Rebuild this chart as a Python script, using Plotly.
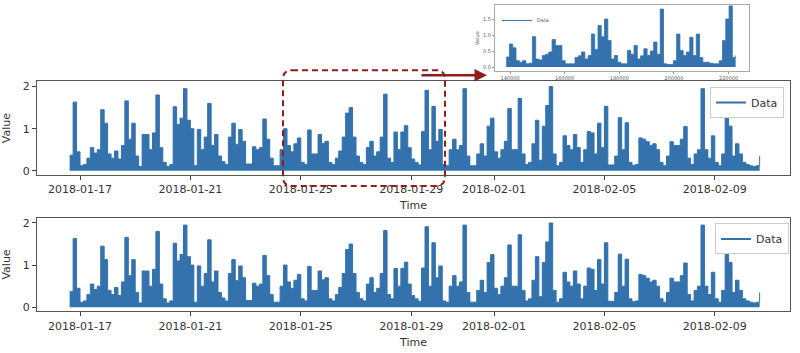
import pandas as pd
import plotly.graph_objects as go

# ---------------- data ----------------
start_time = "2018-01-16 15:00"
values = [
    0.37, 1.63, 0.45, 0.12, 0.15, 0.30, 0.55, 0.42, 0.50, 1.45,
    1.13, 0.40, 0.30, 0.47, 0.28, 0.60, 1.66, 0.75, 1.13, 0.35,
    0.10, 0.86, 0.86, 0.50, 0.90, 1.80, 0.55, 0.20, 0.10, 0.15,
    1.52, 1.10, 1.25, 1.95, 1.20, 1.00, 0.12, 0.98, 0.50, 0.80,
    1.60, 0.60, 0.86, 0.35, 0.22, 0.15, 0.80, 1.13, 0.63, 0.98,
    0.70, 0.16, 0.16, 0.57, 0.50, 0.55, 1.23, 0.75, 0.30, 0.12,
    0.12, 0.50, 1.00, 0.60, 0.45, 0.64, 0.78, 0.20, 0.15, 0.97,
    0.40, 0.40, 0.86, 0.65, 0.70, 0.20, 0.15, 0.30, 0.47, 0.80,
    1.37, 1.50, 0.80, 0.35, 0.20, 0.15, 0.55, 0.70, 0.35, 0.45,
    0.80, 1.82, 0.30, 0.20, 0.92, 0.50, 0.92, 1.07, 0.55, 0.28,
    0.20, 0.14, 0.93, 1.91, 0.50, 1.53, 0.70, 0.98, 0.15, 0.12,
    0.50, 0.75, 0.50, 0.60, 1.95, 0.35, 0.12, 0.12, 0.40, 0.64,
    0.35, 1.06, 1.25, 0.45, 0.30, 0.50, 0.70, 1.48, 0.50, 0.50,
    1.72, 0.40, 0.15, 0.20, 0.64, 1.20, 0.25, 1.06, 1.55, 2.00,
    0.40, 0.12, 0.20, 0.83, 0.60, 0.50, 0.86, 0.55, 0.20, 0.50,
    0.93, 0.90, 0.40, 1.13, 0.55, 1.53, 0.14, 0.14, 0.35, 1.26,
    0.50, 1.14, 0.20, 0.13, 0.15, 0.78, 0.75, 0.69, 0.60, 0.64,
    0.50, 0.20, 0.12, 0.35, 0.69, 0.60, 0.60, 0.75, 1.05, 0.30,
    0.15, 0.40, 0.50, 1.95, 0.50, 0.30, 0.83, 0.20, 0.12, 0.40,
    1.25, 1.06, 0.35, 0.64, 0.40, 0.20, 0.15, 0.12, 0.10, 0.12,
    0.35,
]
times = pd.date_range(start_time, periods=len(values), freq="3h")

inset_start = 138600
inset_step = 1200
inset_values = [
    0.31, 0.72, 0.60, 0.20, 0.15, 0.20, 0.10, 0.12, 0.95, 0.25,
    0.22, 0.36, 0.40, 0.47, 0.86, 0.67, 0.67, 0.20, 0.10, 0.10,
    0.10, 0.30, 0.35, 0.47, 0.25, 0.36, 1.03, 0.55, 1.30, 0.95,
    1.50, 0.83, 0.25, 0.36, 0.15, 0.10, 0.10, 0.52, 0.40, 0.67,
    0.25, 0.35, 0.57, 0.36, 0.50, 0.78, 0.40, 1.81, 0.10, 0.08,
    0.08, 0.20, 1.03, 0.52, 0.36, 0.47, 0.93, 0.36, 1.03, 0.30,
    0.15, 0.15, 0.12, 0.10, 0.10, 0.20, 0.83, 1.50, 1.91, 0.30,
    0.36,
]
inset_index = [inset_start + i * inset_step for i in range(len(inset_values))]

tick_dates = ["2018-01-17", "2018-01-21", "2018-01-25", "2018-01-29",
              "2018-02-01", "2018-02-05", "2018-02-09"]
main_yticks = [0, 1, 2]
inset_xticks = [140000, 160000, 180000, 200000, 220000]
inset_xtick_text = ["140000", "160000", "180000", "200000", "220000"]
inset_yticks = [0.0, 0.5, 1.0, 1.5]
inset_ytick_text = ["0.0", "0.5", "1.0", "1.5"]

# ---------------- styling ----------------
W, H = 800, 353
BLUE = "#3372ad"
RED = "#8b1f1a"
FONT = "DejaVu Sans"


def px_x(p):
    return p / W


def px_y(p):
    return 1 - p / H


fig = go.Figure()

for ax in ["x", "x2"]:
    yax = "y" if ax == "x" else "y2"
    fig.add_trace(go.Scatter(
        x=times, y=values, mode="lines", xaxis=ax, yaxis=yax,
        line=dict(color=BLUE, width=1, shape="hv"), fill="tozeroy",
        fillcolor=BLUE, showlegend=False, hoverinfo="skip"))
    fig.add_trace(go.Scatter(
        x=[None], y=[None], mode="lines", xaxis=ax, yaxis=yax, name="Data",
        line=dict(color=BLUE, width=2),
        legend="legend" if ax == "x" else "legend2"))

fig.add_trace(go.Scatter(
    x=inset_index, y=inset_values, mode="lines", xaxis="x3", yaxis="y3",
    line=dict(color=BLUE, width=0.8, shape="hv"), fill="tozeroy",
    fillcolor=BLUE, showlegend=False, hoverinfo="skip"))
fig.add_trace(go.Scatter(
    x=[None], y=[None], mode="lines", xaxis="x3", yaxis="y3", name="Data",
    line=dict(color=BLUE, width=1), legend="legend3"))

xrange_main = ["2018-01-15 10:36", "2018-02-11 17:24"]
common_x = dict(range=xrange_main, type="date", tickvals=tick_dates,
                ticktext=tick_dates, ticks="outside", ticklen=4,
                tickcolor="#444", showline=True, linecolor="#555",
                linewidth=1, mirror=True, showgrid=False, zeroline=False,
                tickfont=dict(family=FONT, size=11, color="#333"))
common_y = dict(range=[-0.1, 2.13], tickvals=main_yticks, ticks="outside",
                ticklen=4, tickcolor="#444", showline=True, linecolor="#555",
                linewidth=1, mirror=True, showgrid=False, zeroline=False,
                tickfont=dict(family=FONT, size=11, color="#333"),
                title=dict(text="Value", standoff=10,
                           font=dict(family=FONT, size=11, color="#333")))

fig.update_layout(
    width=W, height=H, margin=dict(l=0, r=0, t=0, b=0),
    paper_bgcolor="white", plot_bgcolor="white",
    font=dict(family=FONT, color="#333"),
    xaxis=dict(common_x, domain=[px_x(37), px_x(790)], anchor="y",
               title=dict(text="Time", standoff=6,
                          font=dict(family=FONT, size=11, color="#333"))),
    yaxis=dict(common_y, domain=[px_y(176), px_y(81)], anchor="x"),
    xaxis2=dict(common_x, domain=[px_x(37), px_x(790)], anchor="y2",
                title=dict(text="Time", standoff=6,
                           font=dict(family=FONT, size=11, color="#333"))),
    yaxis2=dict(common_y, domain=[px_y(314), px_y(219)], anchor="x2"),
    xaxis3=dict(domain=[px_x(495), px_x(749)], anchor="y3",
                range=[134500, 227500], tickvals=inset_xticks,
                ticktext=inset_xtick_text,
                ticks="outside", ticklen=2, tickcolor="#999",
                showline=True, linecolor="#aaa", linewidth=1, mirror=True,
                showgrid=False, zeroline=False,
                tickfont=dict(family=FONT, size=5, color="#555")),
    yaxis3=dict(domain=[px_y(71), px_y(4)], anchor="x3",
                range=[-0.13, 1.94], tickvals=inset_yticks,
                ticktext=inset_ytick_text,
                ticks="outside", ticklen=2, tickcolor="#999",
                showline=True, linecolor="#aaa", linewidth=1, mirror=True,
                showgrid=False, zeroline=False,
                tickfont=dict(family=FONT, size=5, color="#555"),
                title=dict(text="Value", standoff=3,
                           font=dict(family=FONT, size=5, color="#555"))),
    legend=dict(x=px_x(784), y=px_y(87), xanchor="right", yanchor="top",
                bgcolor="rgba(255,255,255,0.9)", bordercolor="#ccc",
                borderwidth=1, itemwidth=30, tracegroupgap=0,
                font=dict(family=FONT, size=11, color="#333")),
    legend2=dict(x=px_x(789), y=px_y(225), xanchor="right", yanchor="top",
                 bgcolor="rgba(255,255,255,0.9)", bordercolor="#ccc",
                 borderwidth=1, itemwidth=30, tracegroupgap=0,
                 font=dict(family=FONT, size=11, color="#333")),
    legend3=dict(x=px_x(497), y=px_y(5), xanchor="left", yanchor="top",
                 bgcolor="rgba(255,255,255,0)", borderwidth=0, itemwidth=30,
                 font=dict(family=FONT, size=5, color="#555")),
)

# dashed rounded rectangle
x0, x1 = px_x(283), px_x(445)
yt, yb = px_y(70), px_y(187)
rx, ry = 9 / W, 9 / H
path = (f"M {x0+rx},{yt} L {x1-rx},{yt} Q {x1},{yt} {x1},{yt-ry} "
        f"L {x1},{yb+ry} Q {x1},{yb} {x1-rx},{yb} L {x0+rx},{yb} "
        f"Q {x0},{yb} {x0},{yb+ry} L {x0},{yt-ry} Q {x0},{yt} {x0+rx},{yt} Z")
fig.add_shape(type="path", path=path, xref="paper", yref="paper",
              line=dict(color=RED, width=2, dash="6px,4px"), layer="above")

fig.add_annotation(x=px_x(487), y=px_y(75), xref="paper", yref="paper",
                   ax=-67, ay=0, text="", showarrow=True, arrowhead=2,
                   arrowsize=1, arrowwidth=2.5, arrowcolor=RED)

fig.write_html("out.html")
